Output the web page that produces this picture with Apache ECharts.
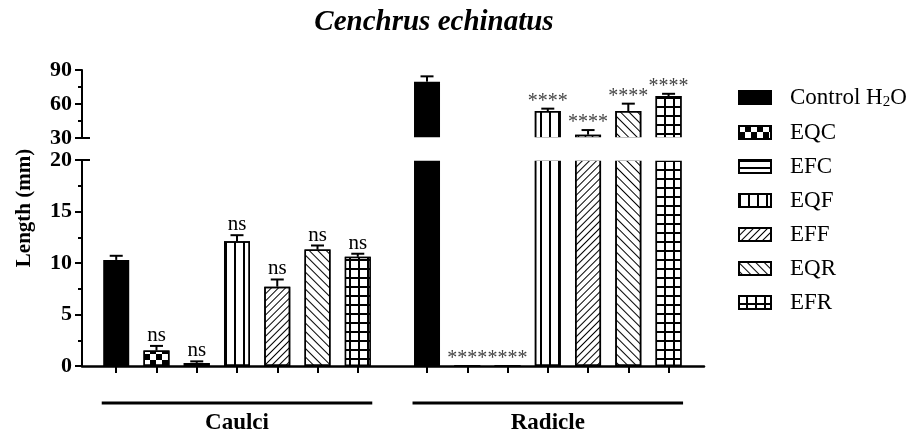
<!DOCTYPE html>
<html><head><meta charset="utf-8">
<script src="https://cdn.jsdelivr.net/npm/echarts@6/dist/echarts.min.js"></script>
<style>html,body{margin:0;padding:0;background:#fff}#c{width:918px;height:432px}</style>
</head><body><div id="c"></div>
<script>
// ---------- data ----------
const groups = ['Caulci', 'Radicle'];
const treatments = ['Control H2O', 'EQC', 'EFC', 'EQF', 'EFF', 'EQR', 'EFR'];
const controlH2O = [10.3, 79.7];
const eqc = [1.5, 0];
const efc = [0.3, 0];
const eqf = [12.1, 53.8];
const eff = [7.7, 32.9];
const eqr = [11.3, 53.8];
const efr = [10.6, 67.0];
const controlErr = [0.4, 4.7];
const eqcErr = [0.45, 0];
const efcErr = [0.15, 0];
const eqfErr = [0.6, 2.1];
const effErr = [0.7, 4.1];
const eqrErr = [0.4, 6.5];
const efrErr = [0.3, 2.0];
const controlSig = ['', ''];
const eqcSig = ['ns', '****'];
const efcSig = ['ns', '****'];
const eqfSig = ['ns', '****'];
const effSig = ['ns', '****'];
const eqrSig = ['ns', '****'];
const efrSig = ['ns', '****'];
const lowerTicks = [0, 5, 10, 15, 20];
const upperTicks = [30, 60, 90];

const means = [controlH2O, eqc, efc, eqf, eff, eqr, efr];
const errs = [controlErr, eqcErr, efcErr, eqfErr, effErr, eqrErr, efrErr];
const sigs = [controlSig, eqcSig, efcSig, eqfSig, effSig, eqrSig, efrSig];

// ---------- layout / style ----------
const FONT = '"Liberation Serif","Times New Roman",serif';
const groupStart = [0.85, 8.57];
const X_MAX = 15.45;
const lowMin = lowerTicks[0], lowMax = lowerTicks[lowerTicks.length - 1];
const upMin = upperTicks[0], upMax = upperTicks[upperTicks.length - 1];

const fills = [
  { color: '#000' },
  { color: '#fff', decal: { symbol: 'rect', symbolSize: 1, color: '#000', dashArrayX: [[6, 6], [0, 6, 6, 0]], dashArrayY: [6, 0] } },
  { color: '#fff', decal: { symbol: 'rect', symbolSize: 1, color: '#000', dashArrayX: [1, 0], dashArrayY: [2, 5] } },
  { color: '#fff', decal: { symbol: 'rect', symbolSize: 1, color: '#000', dashArrayX: [2, 7], dashArrayY: [1, 0] } },
  { color: '#fff', decal: { symbol: 'rect', symbolSize: 1, color: '#000', dashArrayX: [1, 0], dashArrayY: [1, 4], rotation: -Math.PI / 4 } },
  { color: '#fff', decal: { symbol: 'rect', symbolSize: 1, color: '#000', dashArrayX: [1, 0], dashArrayY: [1, 5], rotation: Math.PI / 4 } },
  { color: '#000', decal: { symbol: 'rect', symbolSize: 1, color: '#fff', dashArrayX: [7, 2], dashArrayY: [7, 2] } }
];

const barCenters = [];
groups.forEach((g, gi) => treatments.forEach((t, ti) => barCenters.push(groupStart[gi] + ti)));

const series = [];
treatments.forEach((name, ti) => {
  const data = groups.map((g, gi) => [groupStart[gi] + ti, means[ti][gi]]);
  [0, 1].forEach(gridIdx => {
    series.push({
      type: 'bar', name, xAxisIndex: gridIdx, yAxisIndex: gridIdx,
      data, barWidth: 26, barGap: '-100%', clip: true,
      itemStyle: Object.assign({ borderColor: '#000', borderWidth: 1.5 }, fills[ti])
    });
  });
});

// white cover over the axis break (hides bar borders at the cut)
series.push({
  type: 'custom', xAxisIndex: 0, yAxisIndex: 0, clip: false, z: 4,
  data: [[0, upMin]],
  renderItem(params, api) {
    const p = api.coord([api.value(0), api.value(1)]);
    const r = api.coord([X_MAX, upMin]);
    return { type: 'rect', shape: { x: p[0] + 1.5, y: p[1] - 0.8, width: r[0] - p[0] + 2, height: 23.6 },
      style: { fill: '#fff' } };
  }
});

function errData(top) {
  const items = [], labels = [];
  treatments.forEach((t, ti) => groups.forEach((g, gi) => {
    const v = means[ti][gi], e = errs[ti][gi];
    const ok = top ? v > upMin : v + e <= lowMax;
    if (ok) { items.push([groupStart[gi] + ti, v, e]); labels.push(sigs[ti][gi]); }
  }));
  return { items, labels };
}
function errSeries(gridIdx, top) {
  const d = errData(top);
  return {
    type: 'custom', xAxisIndex: gridIdx, yAxisIndex: gridIdx, z: 5, clip: false,
    data: d.items,
    renderItem(params, api) {
      const x = api.value(0), v = api.value(1), e = api.value(2);
      const b = api.coord([x, v]), t = api.coord([x, v + e]);
      const ch = [];
      if (e > 0) {
        ch.push({ type: 'line', shape: { x1: b[0], y1: b[1], x2: t[0], y2: t[1] }, style: { stroke: '#000', lineWidth: 2 } });
        ch.push({ type: 'line', shape: { x1: t[0] - 6.5, y1: t[1], x2: t[0] + 6.5, y2: t[1] }, style: { stroke: '#000', lineWidth: 2 } });
      }
      const lab = d.labels[params.dataIndex];
      if (lab) {
        const star = lab.indexOf('*') >= 0;
        ch.push({ type: 'text', x: t[0], y: t[1] - (star ? -3 : 0),
          style: { text: lab, align: 'center', verticalAlign: 'bottom', fontFamily: FONT,
            fontSize: star ? 20 : 21, fill: star ? '#444' : '#000' } });
      }
      return { type: 'group', children: ch };
    }
  };
}
series.push(errSeries(0, true));
series.push(errSeries(1, false));

// group brackets below x axis
series.push({
  type: 'custom', xAxisIndex: 1, yAxisIndex: 1, clip: false, z: 5,
  data: groups.map((g, gi) => [groupStart[gi] + 3, 0]),
  renderItem(params, api) {
    const x = api.value(0);
    const l = api.coord([x - 3.36, 0]), r = api.coord([x + 3.36, 0]), c = api.coord([x, 0]);
    return { type: 'group', children: [
      { type: 'line', shape: { x1: l[0], y1: l[1] + 37, x2: r[0], y2: r[1] + 37 }, style: { stroke: '#000', lineWidth: 3 } },
      { type: 'text', x: c[0], y: c[1] + 57, style: { text: groups[params.dataIndex], align: 'center', verticalAlign: 'middle',
        fontFamily: FONT, fontWeight: 'bold', fontSize: 23, fill: '#000' } }
    ] };
  }
});
// axis break marks
[[0, upMin], [1, lowMax]].forEach(([gi, val]) => {
  series.push({
    type: 'custom', xAxisIndex: gi, yAxisIndex: gi, clip: false, z: 6,
    data: [[0, val]],
    renderItem(params, api) {
      const p = api.coord([api.value(0), api.value(1)]);
      return { type: 'line', shape: { x1: p[0] - 1, y1: p[1], x2: p[0] + 8, y2: p[1] }, style: { stroke: '#000', lineWidth: 2 } };
    }
  });
});

const yAxisCommon = {
  type: 'value', z: 7,
  axisLine: { show: true, lineStyle: { color: '#000', width: 2 } },
  axisTick: { show: true, length: 7, lineStyle: { color: '#000', width: 2 } },
  minorTick: { show: true, splitNumber: 2, length: 4, lineStyle: { color: '#000', width: 2 } },
  axisLabel: { color: '#000', fontFamily: FONT, fontWeight: 'bold', fontSize: 22, margin: 10 },
  splitLine: { show: false }
};

const option = {
  animation: false,
  backgroundColor: '#fff',
  grid: [
    { left: 82, right: 214, top: 70, height: 68 },
    { left: 82, right: 214, top: 160, height: 206 }
  ],
  xAxis: [
    { type: 'value', gridIndex: 0, min: 0, max: X_MAX, show: false },
    { type: 'value', gridIndex: 1, min: 0, max: X_MAX, z: 7,
      axisLine: { show: true, onZero: false, lineStyle: { color: '#000', width: 2.5 } },
      axisTick: { show: true, customValues: barCenters, length: 7, lineStyle: { color: '#000', width: 2 } },
      axisLabel: { show: false }, splitLine: { show: false } }
  ],
  yAxis: [
    Object.assign({}, yAxisCommon, { gridIndex: 0, min: upMin, max: upMax, interval: upperTicks[1] - upperTicks[0] }),
    Object.assign({}, yAxisCommon, { gridIndex: 1, min: lowMin, max: lowMax, interval: lowerTicks[1] - lowerTicks[0] })
  ],
  legend: {
    data: treatments, orient: 'vertical', left: 733, top: 81, itemWidth: 32, itemHeight: 13, itemGap: 11,
    icon: 'rect', selectedMode: false,
    formatter: n => n === 'Control H2O' ? 'Control H{sub|2}O' : n,
    textStyle: { fontFamily: FONT, fontSize: 23, color: '#000', lineHeight: 23, padding: [0, 0, 0, 14],
      rich: { sub: { fontFamily: FONT, fontSize: 15, color: '#000', padding: [10, 0, 0, 0] } } }
  },
  graphic: [
    { type: 'text', x: 434, y: 23, style: { text: 'Cenchrus echinatus', align: 'center', verticalAlign: 'middle',
      fontFamily: FONT, fontStyle: 'italic', fontWeight: 'bold', fontSize: 29, fill: '#000' } },
    { type: 'text', x: 25, y: 208, rotation: Math.PI / 2, style: { text: 'Length (mm)', align: 'center', verticalAlign: 'middle',
      fontFamily: FONT, fontWeight: 'bold', fontSize: 21, fill: '#000' } }
  ],
  series
};
const chart = echarts.init(document.getElementById('c'), null, { renderer: 'canvas' });
chart.setOption(option);
</script></body></html>
